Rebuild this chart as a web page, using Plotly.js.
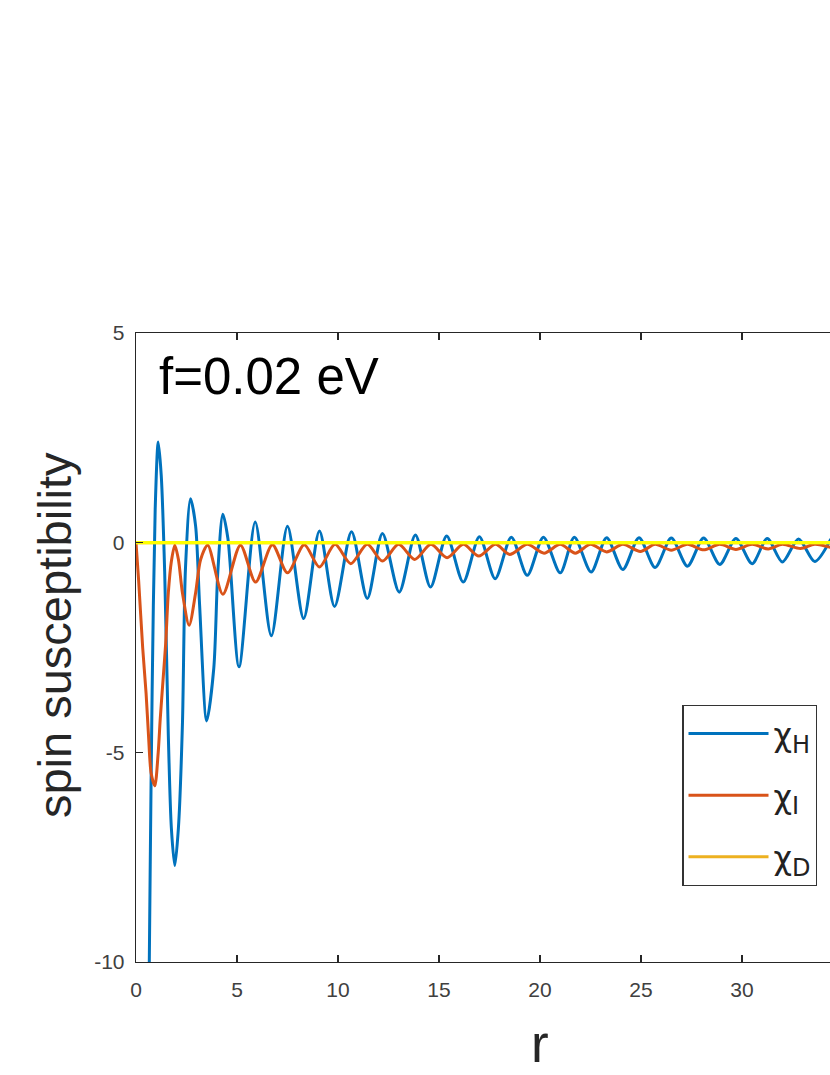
<!DOCTYPE html>
<html>
<head>
<meta charset="utf-8">
<script src="https://cdn.plot.ly/plotly-3.0.1.min.js"></script>
<style>
html,body{margin:0;padding:0;overflow:hidden;background:#fff;}
#chart{width:1000px;height:1075px;}
</style>
</head>
<body>
<div id="chart"></div>
<script>
// chi_H (blue)
const rH = [0.6,0.7,0.8,0.95,1.1,1.25,1.42,1.6,1.75,1.92,2.1,2.3,2.45,2.7,2.95,3.15,3.5,3.85,4.05,4.3,4.55,
  5.1,5.9,6.7,7.5,8.3,9.08,9.83,10.67,11.45,12.2,13.03,13.83,14.58,15.38,16.2,17.0,17.78,18.58,19.37,20.17,
  21.0,21.7,22.53,23.3,24.1,24.9,25.7,26.5,27.3,28.1,28.9,29.7,30.5,31.25,32.0,32.8,33.6,34.4];
const chiH = [-13,-7.9,-3.5,0.8,2.4,1.6,-0.7,-4.6,-6.8,-7.7,-6.8,-4.3,-0.6,1.05,0.4,-1.5,-4.25,-3.0,-0.7,0.68,0.1,
  -2.96,0.49,-2.22,0.39,-1.81,0.28,-1.52,0.26,-1.33,0.22,-1.18,0.18,-1.06,0.16,-0.94,0.14,-0.86,0.13,-0.78,0.13,
  -0.72,0.13,-0.70,0.12,-0.64,0.12,-0.59,0.11,-0.56,0.11,-0.52,0.10,-0.50,0.10,-0.46,0.09,-0.45,0.09];
// chi_I (orange)
const rI = [0,0.13,0.33,0.5,0.62,0.75,0.93,1.1,1.2,1.35,1.47,1.6,1.75,1.92,2.1,2.3,2.63,2.95,3.2,3.55,4.3,5.17,5.92,6.75,7.5,8.33,
  9.08,9.85,10.63,11.45,12.2,13.0,13.8,14.6,15.4,16.2,16.97,17.8,18.5,19.37,20.2,21.0,21.75,22.5,23.3,24.1,24.97,25.7,
  26.5,27.3,28.1,28.9,29.7,30.5,31.3,32.0,32.9,33.6,34.5];
const chiI = [0,-0.9,-2.5,-3.6,-4.6,-5.5,-5.8,-5.0,-4.2,-3.2,-2.4,-1.2,-0.45,-0.06,-0.4,-1.2,-1.97,-1.2,-0.4,-0.06,-1.23,-0.06,-0.94,-0.05,-0.72,-0.05,
  -0.58,-0.04,-0.50,-0.04,-0.44,-0.04,-0.40,-0.04,-0.36,-0.04,-0.32,-0.04,-0.28,-0.04,-0.25,-0.04,-0.25,-0.04,-0.22,-0.04,-0.21,-0.04,
  -0.18,-0.04,-0.17,-0.04,-0.16,-0.04,-0.15,-0.04,-0.14,-0.04,-0.13];
// chi_D and zero reference line
const rD = [0, 40];
const chiD = [0, 0];
const xTicks = [0,5,10,15,20,25,30];
const yTicks = [-10,-5,0,5];
const subs = ['H','I','D'];
const names = subs.map(s => '\u03C7<sub><span style="font-size:24px">' + s + '</span></sub>');

const traces = [
  {x:rH, y:chiH, type:'scatter', mode:'lines', name:names[0], legendgroup:'a', line:{color:'#0072BD', width:3, shape:'spline', smoothing:0.8}},
  {x:rI, y:chiI, type:'scatter', mode:'lines', name:names[1], legendgroup:'b', line:{color:'#D95319', width:3, shape:'spline', smoothing:0.8}},
  {x:rD, y:chiD, type:'scatter', mode:'lines', name:names[2], legendgroup:'c', line:{color:'#EDB120', width:3}},
  {x:rD, y:chiD, type:'scatter', mode:'lines', showlegend:false, hoverinfo:'skip', line:{color:'#FFFF00', width:3.4}}
];

const axisCommon = {
  showgrid:false, zeroline:false, showline:true, linecolor:'#262626', linewidth:1.3,
  ticks:'inside', ticklen:7, tickwidth:1.2, tickcolor:'#262626', mirror:'ticks',
  tickfont:{family:'Liberation Sans, Arial, sans-serif', size:21, color:'#404040'}
};

const layout = {
  width:1000, height:1075,
  margin:{l:136, r:56, t:333, b:113},
  paper_bgcolor:'#fff', plot_bgcolor:'#fff',
  showlegend:true,
  xaxis:Object.assign({}, axisCommon, {range:[0,40], tickvals:xTicks, ticktext:xTicks.map(String), ticklabelstandoff:8}),
  yaxis:Object.assign({}, axisCommon, {range:[-10,5], tickvals:yTicks, ticktext:yTicks.map(String), ticklabelstandoff:6}),
  legend:{x:0.676, y:0.4086, xanchor:'left', yanchor:'top', bgcolor:'#fff', bordercolor:'#333', borderwidth:1.3,
    traceorder:'grouped', tracegroupgap:17,
    font:{family:'DejaVu Sans, sans-serif', size:32, color:'#222'}, itemwidth:80},
  annotations:[
    {xref:'paper', yref:'paper', x:0.0256, y:0.9316, xanchor:'left', yanchor:'middle', showarrow:false,
     text:'f=0.02 eV', font:{family:'Liberation Sans, Arial, sans-serif', size:51, color:'#000'}},
    {xref:'paper', yref:'paper', x:-0.1, y:0.52, xanchor:'center', yanchor:'middle', showarrow:false, textangle:-90,
     text:'spin susceptibility', font:{family:'Liberation Sans, Arial, sans-serif', size:47, color:'#262626'}},
    {xref:'paper', yref:'paper', x:0.5, y:-0.13, xanchor:'center', yanchor:'middle', showarrow:false,
     text:'r', font:{family:'Liberation Sans, Arial, sans-serif', size:53, color:'#262626'}}
  ]
};

Plotly.newPlot('chart', traces, layout, {displayModeBar:false, staticPlot:true});
</script>
</body>
</html>
